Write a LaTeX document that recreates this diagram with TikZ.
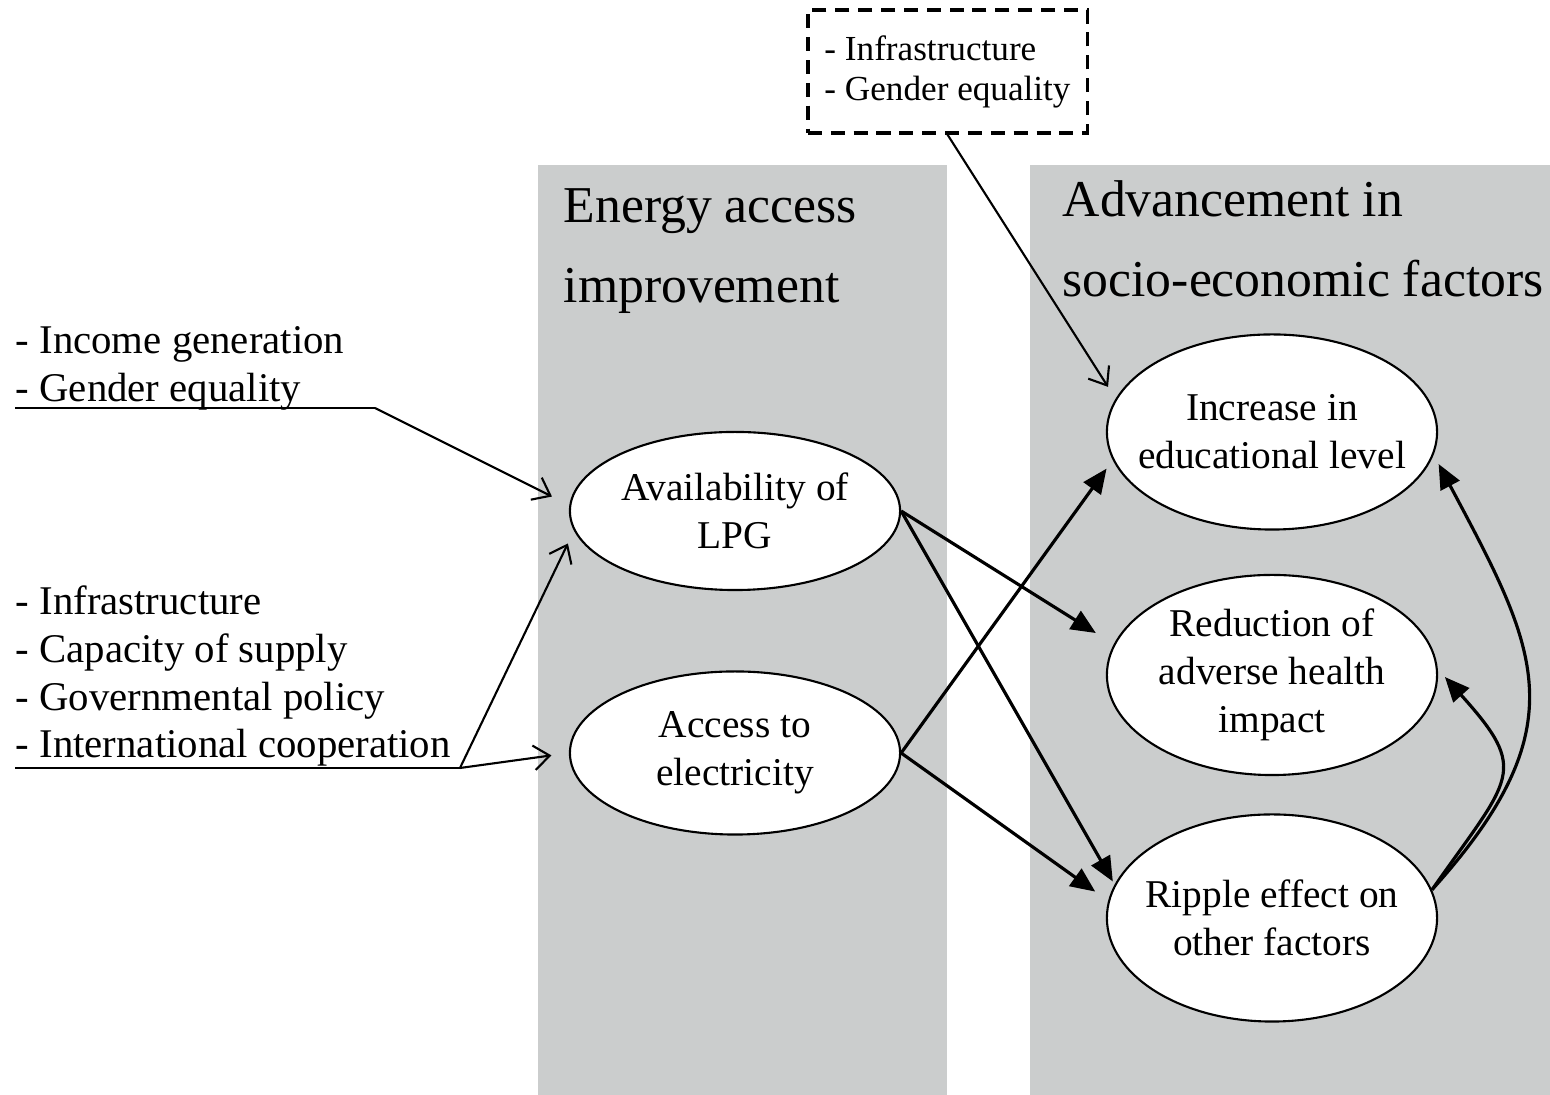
\documentclass[tikz,border=0pt]{standalone}
\usepackage{fontspec}
\setmainfont{Liberation Serif}
\usetikzlibrary{arrows.meta,shapes.geometric,positioning}
\definecolor{panelgray}{RGB}{203,205,205}

\begin{document}
\begin{tikzpicture}[x=0.01cm, y=-0.01cm,
            ell/.style = {shape=ellipse, draw, fill=white, line width=0.6pt,
                          inner xsep=-1cm, inner ysep=-1cm, minimum width=3.3cm,
                          align=center, font=\fontsize{11.2}{13.6}\selectfont},
            lst/.style = {anchor=north west, align=left, inner sep=0pt,
                          font=\fontsize{11.6}{13.6}\selectfont},
            head/.style = {anchor=north west, align=left, inner sep=0pt,
                          font=\fontsize{14.7}{22.8}\selectfont},
            feed/.style = {-{Straight Barb[length=4.5pt,width=7pt]}, line width=0.6pt},
            link/.style = {-{Triangle[length=7pt,width=6pt]}, line width=0.9pt}]
    \useasboundingbox (0,0) rectangle (1550,1095);
    % panels
    \fill[panelgray] (538,165) rectangle (947,1095);
    \fill[panelgray] (1030,165) rectangle (1550,1095);
    \node[head] (energyhead) at (563,188) {Energy access\\improvement};
    \node[head] (advhead) at (1062,180) {Advancement in\\socio-economic factors};

    % ellipses
    \node[ell, minimum height=1.58cm] (lpg) at (735,511) {Availability of\\LPG};
    \node[ell, minimum height=1.63cm] (elec) at (735,753) {Access to\\electricity};
    \node[ell, minimum height=1.95cm] (edu) at (1272,432) {Increase in\\educational level};
    \node[ell, minimum height=2cm] (health) at (1272,675) {Reduction of\\adverse health\\impact};
    \node[ell, minimum height=2.07cm] (ripple) at (1272,918) {Ripple effect on\\other factors};

    % outside drivers
    \node[lst] (grpincome) at (15,326) {- Income generation\\- Gender equality};
    \node[lst] (grpsupply) at (15,585) {- Infrastructure\\- Capacity of supply\\- Governmental policy\\- International cooperation};
    \node[draw, dashed, dash pattern=on 4pt off 2.5pt, line width=0.9pt, align=left,
          minimum width=2.79cm, minimum height=1.23cm,
          font=\fontsize{10}{11.4}\selectfont] (boxnote) at (947.5,71.5)
          {- Infrastructure\\- Gender equality};

    \coordinate (ua) at (15,408);
    \coordinate (ka) at (375,408);
    \coordinate (ub) at (15,768);
    \coordinate (kb) at (460,768);

    \draw[line width=0.6pt] (ua) -- (ka);
    \draw[feed, shorten >=5.5pt] (ka) -- (lpg.178);
    \draw[line width=0.6pt] (ub) -- (kb);
    \draw[feed, shorten >=4pt] (kb) -- (lpg.187);
    \draw[feed, shorten >=5pt] (kb) -- (elec.west);
    \draw[feed, shorten >=4pt] (boxnote.south) -- (edu.168);

    % links between columns
    \draw[link, shorten >=6pt] (lpg.east) -- (health.169);
    \draw[link, shorten >=1pt] (lpg.east) -- (ripple.168);
    \draw[link, shorten >=3pt] (elec.east) -- (edu.190);
    \draw[link, shorten >=4.5pt] (elec.east) -- (ripple.174);
    \draw[link, shorten >=3pt] (ripple.10) to[out=48, in=-62, looseness=1.3] (edu.-8);
    \draw[link, shorten >=3pt] (ripple.10) to[out=55, in=-48, looseness=1.6] (health.2);
\end{tikzpicture}
\end{document}
